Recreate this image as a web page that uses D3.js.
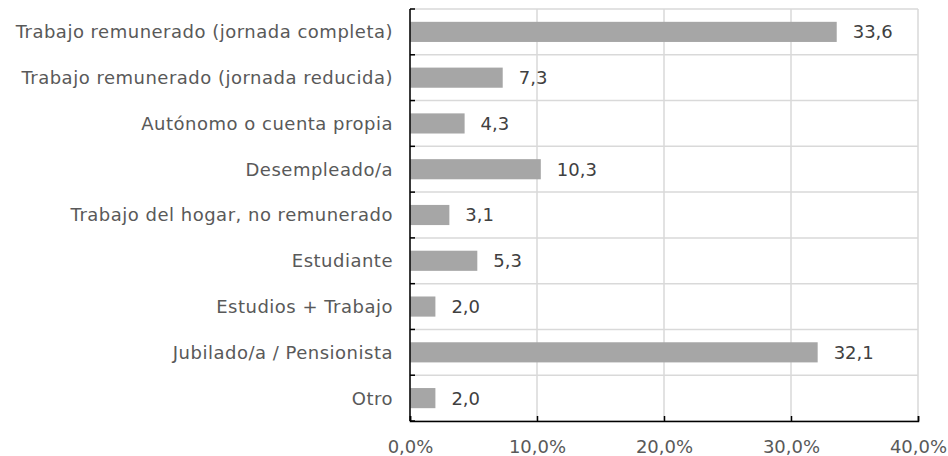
<!DOCTYPE html>
<html>
<head>
<meta charset="utf-8">
<script src="https://cdn.jsdelivr.net/npm/d3@7"></script>
<style>
  body { margin: 0; background: #fff; }
  svg text { font-family: "DejaVu Sans", Verdana, sans-serif; }
</style>
</head>
<body>
<svg id="chart" width="948" height="456"></svg>
<script>
// categories top to bottom
const categories = [
  "Trabajo remunerado (jornada completa)",
  "Trabajo remunerado (jornada reducida)",
  "Autónomo o cuenta propia",
  "Desempleado/a",
  "Trabajo del hogar, no remunerado",
  "Estudiante",
  "Estudios + Trabajo",
  "Jubilado/a / Pensionista",
  "Otro"
];
const values = [33.6, 7.3, 4.3, 10.3, 3.1, 5.3, 2.0, 32.1, 2.0];
const xTicks = [0, 10, 20, 30, 40];

const svg = d3.select("#chart"),
    margin = {top: 9, right: 30, bottom: 35, left: 410},
    width = 918 - margin.left,
    height = 421 - margin.top;

const fmt = v => d3.format(".1f")(v).replace(".", ",");

let x = d3.scaleLinear().domain([0, 40]).range([0, width]);
let y = d3.scaleBand().domain(categories).range([0, height]).paddingInner(0.56).paddingOuter(0.28);

let g = svg.append("g").attr("transform", "translate(" + margin.left + "," + margin.top + ")");

// vertical gridlines
g.append("g").selectAll("line").data(xTicks).enter().append("line")
    .attr("x1", d => x(d)).attr("x2", d => x(d))
    .attr("y1", 0).attr("y2", height)
    .attr("stroke", "#d9d9d9").attr("stroke-width", 1.5);

// horizontal gridlines at category boundaries
let bounds = d3.range(categories.length + 1).map(i => i * height / categories.length);
g.append("g").selectAll("line").data(bounds).enter().append("line")
    .attr("x1", 0).attr("x2", width)
    .attr("y1", d => d).attr("y2", d => d)
    .attr("stroke", "#d9d9d9").attr("stroke-width", 1.5);

// bars
g.append("g").selectAll("rect").data(values).enter().append("rect")
    .attr("x", 0)
    .attr("y", (d, i) => y(categories[i]))
    .attr("width", d => x(d))
    .attr("height", y.bandwidth())
    .attr("fill", "#a6a6a6");

// value labels
g.append("g").selectAll("text").data(values).enter().append("text")
    .attr("x", d => x(d) + 16)
    .attr("y", (d, i) => y(categories[i]) + y.bandwidth() / 2)
    .attr("dy", "0.36em")
    .attr("font-size", 18)
    .attr("fill", "#404040")
    .text(d => fmt(d));

// category labels
g.append("g").selectAll("text").data(categories).enter().append("text")
    .attr("x", -17)
    .attr("y", d => y(d) + y.bandwidth() / 2)
    .attr("dy", "0.36em")
    .attr("text-anchor", "end")
    .attr("font-size", 18)
    .attr("letter-spacing", 0.5)
    .attr("fill", "#595959")
    .text(d => d);

// left axis line with inward ticks
let axisG = g.append("g");
axisG.append("line").attr("x1", 0).attr("x2", 0).attr("y1", 0).attr("y2", height)
    .attr("stroke", "#000").attr("stroke-width", 1.5);
axisG.selectAll(".ly").data(bounds).enter().append("line")
    .attr("x1", 0).attr("x2", 5).attr("y1", d => d).attr("y2", d => d)
    .attr("stroke", "#000").attr("stroke-width", 1.5);

// bottom axis
let xAxis = d3.axisBottom(x).tickValues(xTicks).tickSize(-5).tickPadding(19)
    .tickFormat(d => fmt(d) + "%");
let bx = g.append("g").attr("transform", "translate(0," + height + ")").call(xAxis);
bx.select(".domain").attr("stroke", "#000").attr("stroke-width", 1.5);
bx.selectAll(".tick line").attr("stroke", "#000").attr("stroke-width", 1.5);
bx.selectAll(".tick text").attr("font-size", 18).attr("fill", "#595959")
    .attr("font-family", "'DejaVu Sans', Verdana, sans-serif");
</script>
</body>
</html>
